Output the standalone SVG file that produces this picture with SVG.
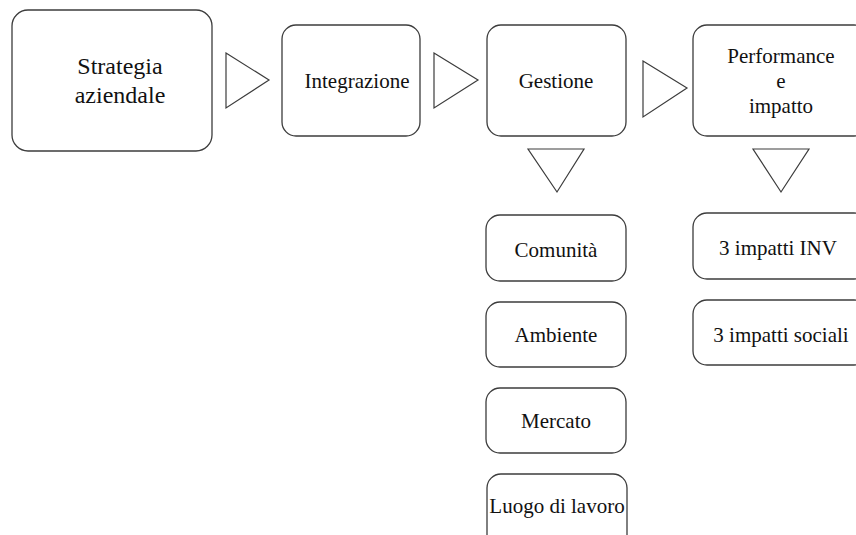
<svg xmlns="http://www.w3.org/2000/svg" width="856" height="535" viewBox="0 0 856 535">
  <style>
    .box { fill: #ffffff; stroke: #3c3c3c; stroke-width: 1.3; }
    .tri { fill: #ffffff; stroke: #3c3c3c; stroke-width: 1.2; stroke-linejoin: miter; }
    .lbl { font-size: 21px; fill: #111111; text-anchor: middle; }
    .big { font-size: 24px; }
  </style>
  <rect width="856" height="535" fill="#ffffff"/>

  <!-- flow arrows (hollow triangles) -->
  <g id="connectors">
    <polygon class="tri" points="226,53 269,80 226,108"/>
    <polygon class="tri" points="434,53 478,80 434,108"/>
    <polygon class="tri" points="643,61 687,88 643,117"/>
    <polygon class="tri" points="528,149 584,149 557,192"/>
    <polygon class="tri" points="753,149 809,149 781,192"/>
  </g>

  <g font-family="'Liberation Serif', 'DejaVu Serif', 'Times New Roman', serif">
    <g id="strategia">
      <rect class="box" x="12" y="10" width="200" height="141" rx="16"/>
      <text class="lbl big" x="120" y="74">Strategia</text>
      <text class="lbl big" x="120" y="103">aziendale</text>
    </g>

    <g id="integrazione">
      <rect class="box" x="282" y="25" width="138" height="111" rx="14"/>
      <text class="lbl" x="357" y="88">Integrazione</text>
    </g>

    <g id="gestione">
      <rect class="box" x="487" y="25" width="139" height="111" rx="14"/>
      <text class="lbl" x="556" y="88">Gestione</text>
    </g>

    <g id="performance">
      <rect class="box" x="693" y="25" width="175" height="111" rx="14"/>
      <text class="lbl" x="781" y="63">Performance</text>
      <text class="lbl" x="781" y="88">e</text>
      <text class="lbl" x="781" y="113">impatto</text>
    </g>

    <g id="comunita">
      <rect class="box" x="486" y="215" width="140" height="66" rx="14"/>
      <text class="lbl" x="556" y="257">Comunità</text>
    </g>

    <g id="ambiente">
      <rect class="box" x="486" y="302" width="140" height="65" rx="14"/>
      <text class="lbl" x="556" y="342">Ambiente</text>
    </g>

    <g id="mercato">
      <rect class="box" x="486" y="388" width="140" height="65" rx="14"/>
      <text class="lbl" x="556" y="428">Mercato</text>
    </g>

    <g id="luogo">
      <rect class="box" x="487" y="474" width="140" height="80" rx="14"/>
      <text class="lbl" x="557" y="513">Luogo di lavoro</text>
    </g>

    <g id="impatti-inv">
      <rect class="box" x="693" y="213" width="175" height="66" rx="14"/>
      <text class="lbl" x="778" y="255">3 impatti INV</text>
    </g>

    <g id="impatti-sociali">
      <rect class="box" x="693" y="300" width="175" height="65" rx="14"/>
      <text class="lbl" x="781" y="342">3 impatti sociali</text>
    </g>
  </g>
</svg>
